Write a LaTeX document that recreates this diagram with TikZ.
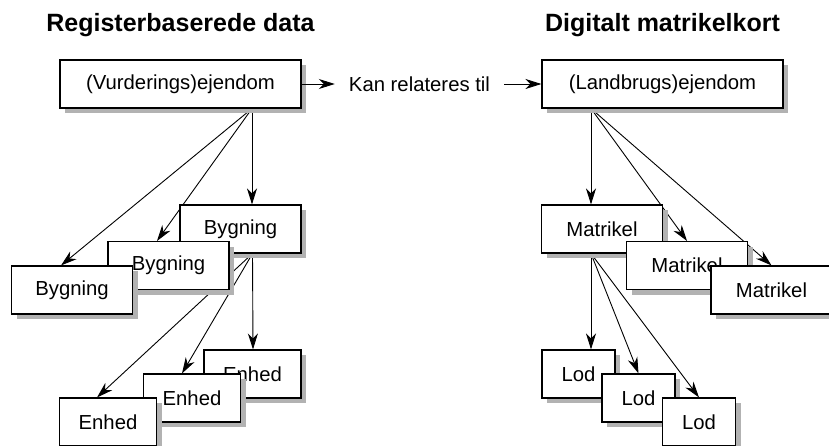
\documentclass[tikz,border=0pt]{standalone}
\usepackage{fontspec}
\setmainfont{Liberation Sans}
\usetikzlibrary{arrows.meta,shadows,backgrounds}

\begin{document}
\begin{tikzpicture}[x=1pt,y=-1pt,
  tekst/.style={font=\fontsize{20.3}{24}\selectfont},
  titel/.style={font=\fontsize{25}{30}\selectfont\bfseries,anchor=base},
  box/.style={tekst,draw,fill=white,line width=1.1pt,inner sep=0pt,minimum height=48pt,
    drop shadow={shadow xshift=5pt,shadow yshift=-5pt,fill=black!30,opacity=1}},
  arr/.style={-{Stealth[length=16pt,width=10pt,inset=5pt]},line width=0.9pt}]
\useasboundingbox (0,0) rectangle (829,446);
% overskrifter
\node[titel] (t1) at (180.5,32) {Registerbaserede data};
\node[titel] (t2) at (662.5,32) {Digitalt matrikelkort};
% ejendomme
\node[box,minimum width=241pt] (vur) at (180.5,84) {(Vurderings)ejendom};
\node[box,minimum width=241pt] (land) at (662.5,84) {(Landbrugs)ejendom};
\node[tekst,inner xsep=14pt,inner ysep=0pt] (rel) at (419.5,84) {Kan relateres til};
\draw[arr] (vur) -- (rel); \draw[arr] (rel) -- (land);
% bygninger og enheder
\node[box,minimum width=121pt] (byg1) at (240.5,229) {Bygning};
\node[box,minimum width=121pt] (byg2) at (168.5,265.5) {Bygning};
\node[box,minimum width=121pt] (byg3) at (72,290) {Bygning};
\node[box,minimum width=97pt] (enh1) at (252.5,374) {Enhed};
\node[box,minimum width=97pt] (enh2) at (192,398) {Enhed};
\node[box,minimum width=97pt] (enh3) at (108,422) {Enhed};
% matrikler og lodder
\node[box,minimum width=121pt] (mat1) at (602,229) {Matrikel};
\node[box,minimum width=121pt] (mat2) at (687,265.5) {Matrikel};
\node[box,minimum width=121pt] (mat3) at (771.5,290) {Matrikel};
\node[box,minimum width=73pt] (lod1) at (578.5,374) {Lod};
\node[box,minimum width=73pt] (lod2) at (638.5,398) {Lod};
\node[box,minimum width=73pt] (lod3) at (699,422) {Lod};
% pile bag kasserne
\begin{scope}[on background layer]
\draw[arr] ([xshift=71.5pt]vur.south) -- ([xshift=11.5pt]byg1.north);
\draw[arr] ([xshift=71.5pt]vur.south) -- ([xshift=-11.5pt]byg2.north);
\draw[arr] ([xshift=71.5pt]vur.south) -- ([xshift=-11pt]byg3.north);
\draw[arr] ([xshift=12pt]byg1.south) -- ([xshift=0.5pt]enh1.north);
\draw[arr] ([xshift=12pt]byg1.south) -- ([xshift=-10pt]enh2.north);
\draw[arr] ([xshift=12pt]byg1.south) -- ([xshift=-11pt]enh3.north);
\draw[arr] ([xshift=-71.5pt]land.south) -- ([xshift=-11pt]mat1.north);
\draw[arr] ([xshift=-71.5pt]land.south) -- (mat2.north);
\draw[arr] ([xshift=-71.5pt]land.south) -- (mat3.north);
\draw[arr] ([xshift=-11pt]mat1.south) -- ([xshift=12.5pt]lod1.north);
\draw[arr] ([xshift=-11pt]mat1.south) -- (lod2.north);
\draw[arr] ([xshift=-11pt]mat1.south) -- (lod3.north);
\end{scope}
\end{tikzpicture}
\end{document}
